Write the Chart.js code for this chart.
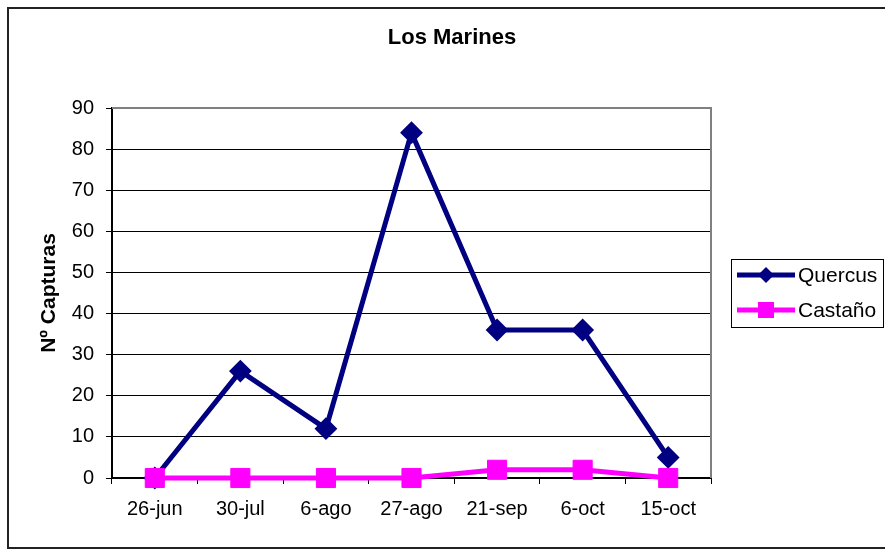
<!DOCTYPE html>
<html>
<head>
<meta charset="utf-8">
<title>Los Marines</title>
<script src="https://cdn.jsdelivr.net/npm/chart.js@4/dist/chart.umd.min.js"></script>
<style>
    html, body { margin: 0; padding: 0; background: #fff; }
    canvas { display: block; }
</style>
</head>
<body>
<canvas id="capturasChart" width="885" height="556"></canvas>
<script>
// Sampling dates and catch counts per trap type
const fechas = ['26-jun', '30-jul', '6-ago', '27-ago', '21-sep', '6-oct', '15-oct'];
const quercus = [0, 26, 12, 84, 36, 36, 5];
const castano = [0, 0, 0, 0, 2, 2, 0];

const tituloGrafico = 'Los Marines';
const tituloEjeY = 'Nº Capturas';

const NAVY = '#000080';
const MAGENTA = '#FF00FF';
const FONT = 'Liberation Sans, Arial, sans-serif';

// Outer frame, chart title, gray plot border and the boxed legend
const marcoPlugin = {
    id: 'marco',
    beforeDraw(chart) {
        const ctx = chart.ctx;
        ctx.save();
        ctx.fillStyle = '#fff';
        ctx.fillRect(0, 0, chart.width, chart.height);
        ctx.strokeStyle = '#222';
        ctx.lineWidth = 2;
        ctx.beginPath();
        ctx.moveTo(chart.width + 2, 8);
        ctx.lineTo(8, 8);
        ctx.lineTo(8, 548);
        ctx.lineTo(chart.width + 2, 548);
        ctx.stroke();

        ctx.fillStyle = '#000';
        ctx.font = 'bold 22px ' + FONT;
        ctx.textAlign = 'center';
        ctx.textBaseline = 'middle';
        ctx.fillText(tituloGrafico, 452, 38);
        ctx.restore();
    },
    beforeDatasetsDraw(chart) {
        const ctx = chart.ctx;
        const area = chart.chartArea;
        ctx.save();
        ctx.strokeStyle = '#808080';
        ctx.lineWidth = 2;
        ctx.beginPath();
        ctx.moveTo(area.left, area.top);
        ctx.lineTo(area.right, area.top);
        ctx.lineTo(area.right, area.bottom);
        ctx.stroke();
        ctx.restore();
    },
    afterDraw(chart) {
        const ctx = chart.ctx;
        ctx.save();
        ctx.strokeStyle = '#000';
        ctx.lineWidth = 1;
        ctx.strokeRect(731.5, 259.5, 152, 68);

        const filas = [275, 310];
        chart.data.datasets.forEach((ds, i) => {
            const y = filas[i];
            ctx.strokeStyle = ds.borderColor;
            ctx.lineWidth = 5;
            ctx.beginPath();
            ctx.moveTo(737, y);
            ctx.lineTo(795, y);
            ctx.stroke();

            ctx.fillStyle = ds.borderColor;
            ctx.beginPath();
            if (ds.pointStyle === 'rectRot') {
                ctx.moveTo(766 - 8, y);
                ctx.lineTo(766, y - 8);
                ctx.lineTo(766 + 8, y);
                ctx.lineTo(766, y + 8);
                ctx.closePath();
            } else {
                ctx.rect(766 - 8, y - 8, 16, 16);
            }
            ctx.fill();

            ctx.fillStyle = '#000';
            ctx.font = '21px ' + FONT;
            ctx.textAlign = 'left';
            ctx.textBaseline = 'middle';
            ctx.fillText(ds.label, 798, y + 1);
        });
        ctx.restore();
    }
};

const ctx = document.getElementById('capturasChart').getContext('2d');
const capturasChart = new Chart(ctx, {
    type: 'line',
    data: {
        labels: fechas,
        datasets: [
            {
                label: 'Quercus',
                data: quercus,
                borderColor: NAVY,
                backgroundColor: NAVY,
                borderWidth: 5,
                pointStyle: 'rectRot',
                pointRadius: 10,
                pointBorderWidth: 2,
                tension: 0,
                fill: false,
                clip: false,
                order: 2
            },
            {
                label: 'Castaño',
                data: castano,
                borderColor: MAGENTA,
                backgroundColor: MAGENTA,
                borderWidth: 5,
                pointStyle: 'rect',
                pointRadius: 13.5,
                pointBorderWidth: 1,
                tension: 0,
                fill: false,
                clip: false,
                order: 1
            }
        ]
    },
    options: {
        responsive: false,
        devicePixelRatio: 1,
        animation: false,
        layout: {
            padding: { left: 28, top: 108, right: 174, bottom: 20 }
        },
        plugins: {
            legend: { display: false },
            title: { display: false },
            tooltip: { enabled: false }
        },
        scales: {
            x: {
                offset: true,
                afterFit(scale) { scale.height = 58; },
                grid: {
                    offset: true,
                    drawOnChartArea: false,
                    drawTicks: true,
                    tickLength: 6,
                    tickColor: '#000'
                },
                border: { color: '#000', width: 2 },
                ticks: {
                    color: '#000',
                    padding: 13,
                    maxRotation: 0,
                    autoSkip: false,
                    font: { family: FONT, size: 20 }
                }
            },
            y: {
                min: 0,
                max: 90,
                afterFit(scale) { scale.width = 84; },
                grid: {
                    color: (c) => (c.tick && c.tick.value === 90 ? 'rgba(0,0,0,0)' : '#000'),
                    lineWidth: 1,
                    drawTicks: true,
                    tickLength: 6,
                    tickColor: '#000'
                },
                border: { color: '#000', width: 2 },
                ticks: {
                    stepSize: 10,
                    color: '#000',
                    padding: 12,
                    font: { family: FONT, size: 20 }
                },
                title: {
                    display: true,
                    text: tituloEjeY,
                    color: '#000',
                    padding: { top: 9, bottom: 0 },
                    font: { family: FONT, size: 21, weight: 'bold' }
                }
            }
        }
    },
    plugins: [marcoPlugin]
});
</script>
</body>
</html>
